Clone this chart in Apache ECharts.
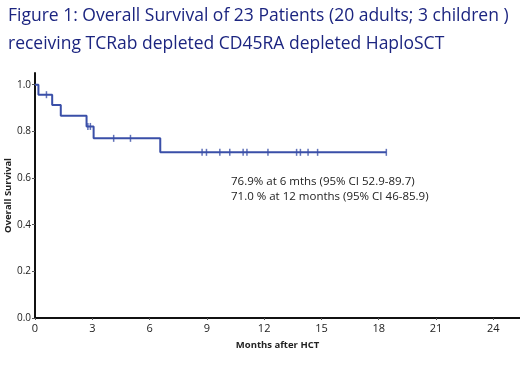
<!DOCTYPE html>
<html>
<head>
<meta charset="utf-8">
<script src="https://cdn.jsdelivr.net/npm/echarts@6/dist/echarts.min.js"></script>
<style>
  html, body { margin: 0; padding: 0; background: #fff; }
  #chart { width: 520px; height: 390px; }
</style>
</head>
<body>
<div id="chart"></div>
<script>
// Kaplan-Meier steps (months, survival)
const stepTimes = [0, 0.18, 0.9, 1.35, 2.7, 3.07, 6.56, 18.4];
const stepSurv = [1.0, 0.957, 0.913, 0.867, 0.821, 0.77, 0.71, 0.71];

// censored patients
const censorTimes = [0.6, 2.77, 2.9, 4.12, 5.0, 8.75, 8.98, 9.68, 10.2, 10.9, 11.1, 12.2, 13.7, 13.9, 14.3, 14.8, 18.4];
const censorSurv = [0.957, 0.821, 0.821, 0.77, 0.77, 0.71, 0.71, 0.71, 0.71, 0.71, 0.71, 0.71, 0.71, 0.71, 0.71, 0.71, 0.71];

const titleLines = [
  'Figure 1: Overall Survival of 23 Patients (20 adults; 3 children )',
  'receiving TCRab depleted CD45RA depleted HaploSCT'
];
const noteLines = [
  '76.9% at 6 mths (95% CI 52.9-89.7)',
  '71.0 % at 12 months (95% CI 46-85.9)'
];

const navy = '#1c2580';
const curveBlue = '#3a4fa8';
const fontFam = '"Open Sans", "Liberation Sans", sans-serif';

const chart = echarts.init(document.getElementById('chart'));

chart.setOption({
  animation: false,
  title: {
    text: titleLines.join('\n'),
    left: 3,
    top: -3,
    textStyle: {
      color: navy,
      fontFamily: fontFam,
      fontWeight: 'normal',
      fontSize: 17.5,
      lineHeight: 28
    }
  },
  grid: {
    left: 35,
    right: 0,
    top: 73,
    bottom: 72,
    outerBoundsMode: 'none'
  },
  xAxis: {
    type: 'value',
    min: 0,
    max: 25.4,
    interval: 3,
    name: 'Months after HCT',
    nameLocation: 'middle',
    nameGap: 22,
    nameMoveOverlap: false,
    nameTextStyle: {
      color: '#222',
      fontFamily: fontFam,
      fontWeight: 'bold',
      fontSize: 9.5
    },
    axisLine: { lineStyle: { color: '#111', width: 2 } },
    axisTick: { show: true, length: 2, lineStyle: { color: '#555' } },
    axisLabel: {
      showMaxLabel: false,
      color: '#222',
      fontFamily: fontFam,
      fontSize: 11,
      margin: 5
    },
    splitLine: { show: false }
  },
  yAxis: {
    type: 'value',
    min: 0,
    max: 1.05,
    interval: 0.2,
    name: 'Overall Survival',
    nameLocation: 'middle',
    nameGap: 22,
    nameMoveOverlap: false,
    nameTextStyle: {
      color: '#222',
      fontFamily: fontFam,
      fontWeight: 'bold',
      fontSize: 9.5
    },
    axisLine: { show: true, lineStyle: { color: '#111', width: 2 } },
    axisTick: { show: true, length: 3, lineStyle: { color: '#555' } },
    axisLabel: {
      showMaxLabel: false,
      color: '#222',
      fontFamily: fontFam,
      fontSize: 10,
      margin: 4,
      formatter: v => v.toFixed(1)
    },
    splitLine: { show: false }
  },
  graphic: [{
    type: 'text',
    left: 231,
    top: 174,
    style: {
      text: noteLines.join('\n'),
      fill: '#222',
      font: '11.5px ' + fontFam,
      lineHeight: 15
    }
  }],
  series: [{
    type: 'line',
    step: 'end',
    data: stepTimes.map((t, i) => [t, stepSurv[i]]),
    symbol: 'none',
    lineStyle: { color: curveBlue, width: 2 }
  }, {
    type: 'scatter',
    data: censorTimes.map((t, i) => [t, censorSurv[i]]),
    symbol: 'rect',
    symbolSize: [1.5, 7],
    itemStyle: { color: curveBlue }
  }]
});
</script>
</body>
</html>
